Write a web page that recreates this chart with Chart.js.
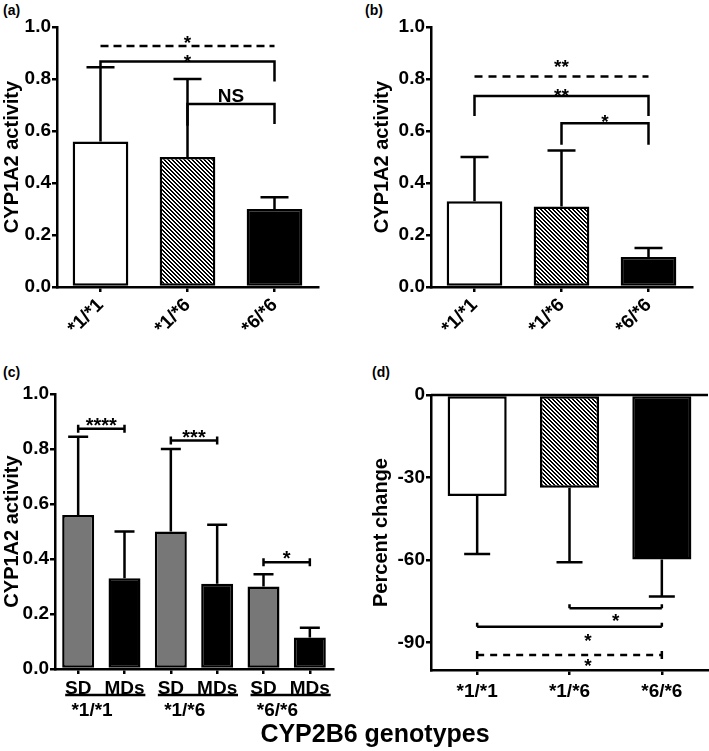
<!DOCTYPE html>
<html>
<head>
<meta charset="utf-8">
<script src="https://cdn.jsdelivr.net/npm/chart.js@4.4.1/dist/chart.umd.min.js"></script>
<style>
  body { margin: 0; background: #fff; width: 709px; height: 751px; position: relative; overflow: hidden;
         font-family: "Liberation Sans", Arial, sans-serif; font-weight: bold; color: #000; }
  canvas { position: absolute; }
  .tag { position: absolute; font-size: 14px; font-weight: bold; }
  #xtitle { position: absolute; left: 175px; width: 400px; top: 719px; text-align: center; font-size: 25px; font-weight: bold; }
</style>
</head>
<body>
<div class="tag" style="left:3px;top:2px">(a)</div>
<div class="tag" style="left:365px;top:2px">(b)</div>
<div class="tag" style="left:3px;top:364px">(c)</div>
<div class="tag" style="left:372px;top:364px">(d)</div>
<canvas id="ca" width="355" height="370" style="left:0;top:0"></canvas>
<canvas id="cb" width="354" height="370" style="left:355px;top:0"></canvas>
<canvas id="cc" width="355" height="381" style="left:0;top:370px"></canvas>
<canvas id="cd" width="354" height="381" style="left:355px;top:370px"></canvas>
<div id="xtitle">CYP2B6 genotypes</div>
<script>
// data
const genotypes = ["*1/*1", "*1/*6", "*6/*6"];
const doseLabels = ["SD", "MDs"];
const sdMean = [0.56, 0.50, 0.30];     // single dose
const sdErr = [0.285, 0.30, 0.045];
const mdMean = [0.33, 0.31, 0.115];    // multiple doses
const mdErr = [0.17, 0.215, 0.035];
const pctMean = [-36.7, -33.7, -59.8]; // percent change
const pctErr = [21.1, 27.1, 13.5];
const activityTicks = [0, 0.2, 0.4, 0.6, 0.8, 1.0];
const pctTicks = [0, -30, -60, -90];

// significance marks (category index, value on y)
const bracketsA = [
  { from: 0, to: 2, y: 0.927, dash: [8, 5], label: "*", ly: 0.958 },
  { from: 0, to: 2, y: 0.867, legs: [0.845, 0.79], label: "*", ly: 0.885 },
  { from: 1, to: 2, y: 0.704, legs: [0.62, 0.627], label: "NS", ly: 0.737 }
];
const bracketsB = [
  { from: 0, to: 2, y: 0.81, dash: [8, 6], label: "**", ly: 0.865 },
  { from: 0, to: 2, y: 0.735, legs: [0.658, 0.658], label: "**", ly: 0.755 },
  { from: 1, to: 2, y: 0.63, legs: [0.547, 0.547], label: "*", ly: 0.654 }
];
const bracketsC = [
  { from: 0, to: 1, y: 0.874, ends: [4, 4], label: "****", ly: 0.905 },
  { from: 2, to: 3, y: 0.831, ends: [4, 4], label: "***", ly: 0.859 },
  { from: 4, to: 5, y: 0.388, ends: [4, 4], label: "*", ly: 0.418 }
];
const bracketsD = [
  { from: 1, to: 2, y: -77.5, ends: [4, 0], label: "*", ly: -80.3, lx: 1.5 },
  { from: 0, to: 2, y: -84.3, ends: [4, 0], label: "*", ly: -87.6, lx: 1.2 },
  { from: 0, to: 2, y: -94.5, ends: [4, 4], dash: [7, 6], label: "*", ly: -96.9, lx: 1.2 }
];

const FAMILY = "'Liberation Sans', Arial, sans-serif";
const tickFont = { family: FAMILY, size: 19, weight: "bold" };
const titleFont = { family: FAMILY, size: 20, weight: "bold" };

function hatch(ctx) {
  const c = document.createElement("canvas");
  c.width = 4; c.height = 4;
  const g = c.getContext("2d");
  const img = g.createImageData(4, 4);
  for (let y = 0; y < 4; y++) {
    for (let x = 0; x < 4; x++) {
      const v = ((x - y + 4) % 4) < 2 ? 0 : 255;
      const k = (y * 4 + x) * 4;
      img.data[k] = img.data[k + 1] = img.data[k + 2] = v;
      img.data[k + 3] = 255;
    }
  }
  g.putImageData(img, 0, 0);
  return ctx.createPattern(c, "repeat");
}

function errorBars(mean, err, cap) {
  return {
    id: "errorBars",
    afterDatasetsDraw(chart) {
      const ctx = chart.ctx, y = chart.scales.y;
      const meta = chart.getDatasetMeta(0);
      ctx.save();
      ctx.strokeStyle = "#000";
      ctx.lineWidth = 2.5;
      meta.data.forEach((bar, i) => {
        const end = mean[i] < 0 ? mean[i] - err[i] : mean[i] + err[i];
        const ye = y.getPixelForValue(end);
        ctx.beginPath();
        ctx.moveTo(bar.x, bar.y);
        ctx.lineTo(bar.x, ye);
        ctx.moveTo(bar.x - cap / 2, ye);
        ctx.lineTo(bar.x + cap / 2, ye);
        ctx.stroke();
      });
      ctx.restore();
    }
  };
}

function brackets(list, fontSize) {
  return {
    id: "brackets",
    afterDraw(chart) {
      const { ctx, scales: { x, y } } = chart;
      ctx.save();
      ctx.strokeStyle = "#000";
      ctx.fillStyle = "#000";
      ctx.lineWidth = 2.5;
      list.forEach(b => {
        const x1 = x.getPixelForValue(b.from), x2 = x.getPixelForValue(b.to);
        const yy = y.getPixelForValue(b.y);
        ctx.setLineDash(b.dash || []);
        ctx.beginPath();
        if (b.legs) {
          ctx.moveTo(x1, y.getPixelForValue(b.legs[0]));
          ctx.lineTo(x1, yy);
          ctx.lineTo(x2, yy);
          ctx.lineTo(x2, y.getPixelForValue(b.legs[1]));
        } else {
          ctx.moveTo(x1, yy);
          ctx.lineTo(x2, yy);
        }
        ctx.stroke();
        ctx.setLineDash([]);
        if (b.ends) {
          ctx.beginPath();
          [x1, x2].forEach(px => {
            ctx.moveTo(px, yy - b.ends[0]);
            ctx.lineTo(px, yy + b.ends[1]);
          });
          ctx.stroke();
        }
        // label centred on ly
        const stars = /^\*+$/.test(b.label);
        ctx.font = "bold " + fontSize + "px " + FAMILY;
        ctx.textAlign = "center";
        ctx.textBaseline = "alphabetic";
        const lx = b.lx !== undefined ? x.getPixelForValue(b.lx) : (x1 + x2) / 2;
        const base = y.getPixelForValue(b.ly) + (stars ? 0.57 : 0.36) * fontSize;
        ctx.fillText(b.label, lx, base);
      });
      ctx.restore();
    }
  };
}

function axisStyle(extra) {
  return Object.assign({
    border: { display: true, color: "#000", width: 2.5 },
    grid: { drawOnChartArea: false, tickLength: 5, color: "#000", lineWidth: 2.5, offset: false }
  }, extra);
}

function activityChart(id, mean, err, brk, pad, yWidth, xHeight) {
  const ctx = document.getElementById(id).getContext("2d");
  return new Chart(ctx, {
    type: "bar",
    data: {
      labels: genotypes,
      datasets: [{
        data: mean,
        backgroundColor: ["#ffffff", hatch(ctx), "#000000"],
        borderColor: "#000",
        borderWidth: 2.5,
        borderSkipped: false,
        barPercentage: 0.64,
        categoryPercentage: 1
      }]
    },
    options: {
      responsive: false,
      animation: false,
      devicePixelRatio: 1,
      layout: { padding: pad },
      plugins: { legend: { display: false }, tooltip: { enabled: false } },
      scales: {
        x: axisStyle({
          afterFit: s => { s.height = xHeight; s.paddingLeft = 0; s.paddingRight = 0; },
          ticks: { color: "#000", font: tickFont, minRotation: 45, maxRotation: 45, padding: 2 }
        }),
        y: axisStyle({
          min: 0, max: 1,
          afterBuildTicks: s => { s.ticks = activityTicks.map(v => ({ value: v })); },
          afterFit: s => { s.width = yWidth; },
          ticks: { color: "#000", font: tickFont, padding: 1, callback: v => v.toFixed(1) },
          title: { display: true, text: "CYP1A2 activity", color: "#000", padding: 0, font: titleFont }
        })
      }
    },
    plugins: [errorBars(mean, err, 28), brackets(brk, 19)]
  });
}

// (a) single dose, (b) multiple doses
activityChart("ca", sdMean, sdErr, bracketsA, { left: 0, top: 27, right: 37, bottom: 0 }, 57, 83);
activityChart("cb", mdMean, mdErr, bracketsB, { left: 15, top: 27, right: 17, bottom: 0 }, 61, 83);

// (c) SD vs MDs per genotype
const cLabels = [], cMean = [], cErr = [], cColors = [];
genotypes.forEach((g, i) => {
  cLabels.push(doseLabels[0], doseLabels[1]);
  cMean.push(sdMean[i], mdMean[i]);
  cErr.push(sdErr[i], mdErr[i]);
  cColors.push("#777777", "#000000");
});

const groupLabels = {
  id: "groupLabels",
  afterDraw(chart) {
    const { ctx, scales: { x } } = chart;
    const step = x.getPixelForValue(1) - x.getPixelForValue(0);
    ctx.save();
    ctx.strokeStyle = "#000";
    ctx.fillStyle = "#000";
    ctx.lineWidth = 2.5;
    ctx.font = "bold 19px " + FAMILY;
    ctx.textAlign = "center";
    genotypes.forEach((g, i) => {
      const a = x.getPixelForValue(2 * i), b = x.getPixelForValue(2 * i + 1);
      ctx.beginPath();
      ctx.moveTo(a - 0.28 * step, 325);
      ctx.lineTo(b + 0.45 * step, 325);
      ctx.stroke();
      ctx.fillText(g, (a + b) / 2 - 0.2 * step, 346);
    });
    ctx.restore();
  }
};

(function () {
  const ctx = document.getElementById("cc").getContext("2d");
  new Chart(ctx, {
    type: "bar",
    data: {
      labels: cLabels,
      datasets: [{
        data: cMean,
        backgroundColor: cColors,
        borderColor: "#000",
        borderWidth: 2.5,
        borderSkipped: false,
        barPercentage: 0.69,
        categoryPercentage: 1
      }]
    },
    options: {
      responsive: false,
      animation: false,
      devicePixelRatio: 1,
      layout: { padding: { left: 0, top: 24, right: 22, bottom: 0 } },
      plugins: { legend: { display: false }, tooltip: { enabled: false } },
      scales: {
        x: axisStyle({
          afterFit: s => { s.height = 82; s.paddingLeft = 0; s.paddingRight = 0; },
          ticks: { color: "#000", font: tickFont, maxRotation: 0, minRotation: 0, autoSkip: false, padding: 3 }
        }),
        y: axisStyle({
          min: 0, max: 1,
          afterBuildTicks: s => { s.ticks = activityTicks.map(v => ({ value: v })); },
          afterFit: s => { s.width = 55; },
          ticks: { color: "#000", font: tickFont, padding: 1, callback: v => v.toFixed(1) },
          title: { display: true, text: "CYP1A2 activity", color: "#000", padding: 0, font: titleFont }
        })
      }
    },
    plugins: [errorBars(cMean, cErr, 20), brackets(bracketsC, 20), groupLabels]
  });
})();

// (d) percent change
const zeroLine = {
  id: "zeroLine",
  afterDraw(chart) {
    const { ctx, chartArea, scales: { y } } = chart;
    const y0 = y.getPixelForValue(0);
    ctx.save();
    ctx.strokeStyle = "#000";
    ctx.lineWidth = 2.5;
    ctx.beginPath();
    ctx.moveTo(chartArea.left, y0);
    ctx.lineTo(chartArea.right, y0);
    ctx.stroke();
    ctx.restore();
  }
};

(function () {
  const ctx = document.getElementById("cd").getContext("2d");
  new Chart(ctx, {
    type: "bar",
    data: {
      labels: genotypes,
      datasets: [{
        data: pctMean,
        backgroundColor: ["#ffffff", hatch(ctx), "#000000"],
        borderColor: "#000",
        borderWidth: 2.5,
        borderSkipped: false,
        barPercentage: 0.64,
        categoryPercentage: 1
      }]
    },
    options: {
      responsive: false,
      animation: false,
      devicePixelRatio: 1,
      layout: { padding: { left: 14, top: 25, right: 1, bottom: 0 } },
      plugins: { legend: { display: false }, tooltip: { enabled: false } },
      scales: {
        x: axisStyle({
          afterFit: s => { s.height = 81; s.paddingLeft = 0; s.paddingRight = 0; },
          ticks: { color: "#000", font: tickFont, maxRotation: 0, minRotation: 0, padding: 5 }
        }),
        y: axisStyle({
          min: -100, max: 0,
          afterBuildTicks: s => { s.ticks = pctTicks.map(v => ({ value: v })); },
          afterFit: s => { s.width = 62; },
          ticks: { color: "#000", font: tickFont, padding: 1 },
          title: { display: true, text: "Percent change", color: "#000", padding: 0, font: titleFont }
        })
      }
    },
    plugins: [errorBars(pctMean, pctErr, 26), brackets(bracketsD, 19), zeroLine]
  });
})();
</script>
</body>
</html>
